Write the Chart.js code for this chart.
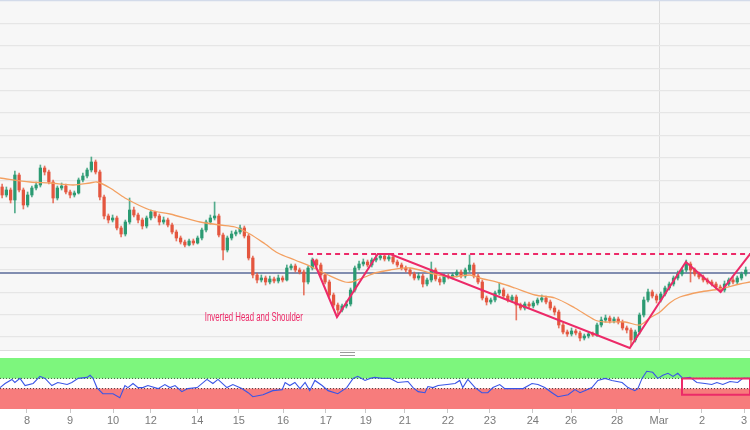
<!DOCTYPE html>
<html>
<head>
<meta charset="utf-8">
<script src="https://cdn.jsdelivr.net/npm/chart.js@4.4.1/dist/chart.umd.min.js"></script>
<style>
  html, body { margin: 0; padding: 0; background: #ffffff; }
  #wrap { position: relative; width: 750px; height: 430px; overflow: hidden; background: #ffffff; }
  #mainBox { position: absolute; left: 0; top: 0; width: 750px; height: 350px; background: #f7f7f7; }
  #sep { position: absolute; left: 0; top: 350px; width: 750px; height: 1px; background: #dedede; }
  #handle { position: absolute; left: 340px; top: 352px; width: 15px; height: 2px; border-top: 1px solid #9a9a9a; border-bottom: 1px solid #9a9a9a; }
  #rsiBox { position: absolute; left: 0; top: 358px; width: 750px; height: 72px; }
</style>
</head>
<body>
<div id="wrap">
  <div id="mainBox"><canvas id="priceChart"></canvas></div>
  <div id="sep"></div>
  <div id="handle"></div>
  <div id="rsiBox"><canvas id="rsiChart"></canvas></div>
</div>
<script>
// ---------- DATA ----------
const opens = [150,142,147,137,162,147,132,142,149,152,
169,165,155,139,149,151,145,142,144,157,
161,167,175,165,140,121,117,119,109,103,
115,127,122,117,111,119,125,121,115,117,
112,105,99,95,92,96,94,99,107,115,
119,121,102,87,99,103,105,109,101,79,
62,57,59,55,58,56,59,57,69,71,
67,65,55,69,77,72,62,55,42,32,
27,31,33,47,69,73,75,72,77,79,
81,78,80,75,72,69,67,63,59,61,
53,57,67,58,55,61,60,62,65,61,
67,72,61,55,39,35,37,44,47,41,
37,40,32,29,33,31,34,37,39,35,
29,25,12,5,3,6,4,-1,1,3,
2,12,17,19,16,18,15,9,7,-3,
5,22,37,45,41,37,43,49,53,59,
63,67,73,67,63,60,57,55,53,50,
47,53,57,55,59,63];
const highs = [153,150,149,166,164,149,145,151,155,172,
171,167,157,151,154,153,147,146,159,164,
169,180,177,167,142,123,122,121,111,117,
139,130,124,119,121,127,126,123,120,119,
114,107,101,97,98,98,101,109,117,122,
135,123,104,101,106,107,112,111,103,81,
64,62,61,61,60,62,61,72,73,73,
69,67,71,79,78,74,64,57,44,34,
33,36,49,71,76,78,77,79,82,83,
83,82,82,77,74,71,69,65,64,63,
59,75,69,60,63,63,64,67,67,69,
82,74,63,57,41,39,46,54,49,43,
42,42,34,35,35,36,39,42,41,37,
31,27,14,7,9,8,6,3,5,5,
14,20,22,21,20,20,17,11,9,7,
24,40,48,47,43,45,51,55,61,66,
69,77,75,69,65,62,59,57,55,52,
56,59,60,61,65,70];
const lows = [139,140,134,124,145,128,130,140,147,150,
162,153,134,137,147,143,139,140,143,155,
159,165,163,137,118,114,115,107,100,101,
113,120,114,108,109,117,119,112,113,110,
103,96,93,90,91,92,93,97,105,113,
117,100,77,85,97,101,103,99,77,59,
54,55,52,53,54,54,55,56,67,65,
63,42,53,67,70,60,53,40,30,23,
25,29,31,45,67,71,70,70,75,77,
76,76,73,70,67,65,61,57,57,50,
51,55,56,52,53,58,58,60,59,59,
65,59,53,37,32,33,35,42,39,35,
35,17,27,27,29,29,32,35,33,27,
22,9,3,0,1,2,-4,-3,-1,0,
0,10,15,14,14,13,7,4,-9,-5,
3,20,35,39,34,35,41,47,51,57,
61,65,55,61,58,55,53,51,48,45,
45,51,53,53,57,61];
const closes = [142,147,137,162,147,132,142,149,152,169,
165,155,139,149,151,145,142,144,157,161,
167,175,165,140,121,117,119,109,103,115,
127,122,117,111,119,125,121,115,117,112,
105,99,95,92,96,94,99,107,115,119,
121,102,87,99,103,105,109,101,79,62,
57,59,55,58,56,59,57,69,71,67,
65,55,69,77,72,62,55,42,32,27,
31,33,47,69,73,75,72,77,79,81,
78,80,75,72,69,67,63,59,61,53,
57,67,58,55,61,60,62,65,61,67,
72,61,55,39,35,37,44,47,41,37,
40,32,29,33,31,34,37,39,35,29,
25,12,5,3,6,4,-1,1,3,2,
12,17,19,16,18,15,9,7,-3,5,
22,37,45,41,37,43,49,53,59,63,
67,73,67,63,60,57,55,53,50,47,
53,57,55,59,63,67];

// moving average line (orange), read at these candle positions
const emaX = [-0.5,6.6,11.3,16.7,20.7,22.3,25.4,28.9,34.8,39.5,46.6,51.3,54.8,58.3,61.9,64.9,68.9,72.9,76.7,80.7,82.3,85.4,87.7,91.3,96,100.7,105.4,110.1,112.4,117.1,120.7,125.4,130.1,134.8,139.5,141.9,146.6,150.1,152.4,154.8,157.1,159.5,164.2,168.9,173.6,176];
const emaY = [159,155,154,152,154,155,149,139,127,123,115,112,110,103,93,84,77,70,62,55,55,60,64,67,69,64,60,62,59,54,49,42,39,29,17,15,15,12,19,25,34,40,45,48,53,55];

// RSI-type oscillator (lower panel)
const rsiX = [-0.5,0.7,2.3,3.0,4.2,5.4,7.3,8.9,10.1,11.7,13.1,15.3,16.4,17.9,20.0,20.7,21.4,22.3,23.7,26.1,27.7,28.9,29.6,30.8,32.0,33.1,34.3,36.7,38.3,39.5,40.7,42.3,43.7,45.9,48.2,49.6,50.8,52.9,54.3,56.4,57.9,59.0,61.4,63.7,65.9,66.6,67.7,68.9,70.1,71.3,72.4,73.6,75.3,76.7,79.0,81.1,82.6,83.7,85.4,86.6,87.7,89.4,91.3,93.1,95.5,96.7,97.9,99.5,100.2,101.4,102.6,104.7,106.6,107.7,108.4,109.6,111.3,112.9,114.3,115.5,117.1,118.3,120.7,122.6,124.7,126.1,127.7,129.4,130.8,133.2,134.8,136.0,137.1,138.8,140.2,141.9,143.5,145.9,147.3,148.9,149.6,150.6,151.7,153.1,154.3,155.5,156.7,157.9,159.0,160.2,161.9,163.5,165.4,167.0,168.2,169.6,171.3,173.1,174.3,176.0];
const rsiY = [42,50,58,52,60,46,50,64,60,46,52,48,52,60,62,66,60,42,30,30,22,46,42,50,42,42,46,40,48,42,46,34,40,42,58,50,58,42,48,40,32,24,28,36,38,52,46,52,40,52,36,56,46,36,30,42,60,64,56,60,62,60,60,52,54,42,34,32,44,42,46,48,50,56,42,58,42,32,32,42,48,40,40,40,50,48,42,32,24,28,38,32,36,42,56,60,56,52,42,36,40,60,74,72,60,66,70,64,70,60,62,52,50,48,52,48,54,52,60,60];
const rsiUpper = 60;
const rsiLower = 40;

// horizontal levels and pattern drawing
const priceLevel = 64;          // dark blue horizontal line
const necklineLevel = 83;       // pink dashed neckline
const necklineFrom = 72;
const patternX = [73.1, 78.8, 88.4, 91.3, 147.7, 160.9, 169.1, 176];
const patternY = [78, 20, 83, 83, -11, 75, 45, 83];
const patternLabel = 'Inverted Head and Shoulder';
const rsiBoxX = [160, 176, 176, 160, 160];
const rsiBoxY = [60, 60, 28, 28, 60];

// axis labels
const tickPos = [5.85,16.0,26.1,35.0,45.9,55.7,66.1,76.2,85.6,94.8,104.9,114.8,124.9,133.9,144.7,154.6,164.7,174.6];
const tickLabels = ['8','9','10','12','14','15','16','17','19','21','22','23','24','26','28','Mar','2','3'];
const monthBreak = 154.6;
const gridLevels = [0,22.4,44.8,67.2,89.6,112,134.4,156.8,179.2,201.6,224,246.4,268.8,291.2,313.6,336];

// ---------- STYLE ----------
const UP = '#2b9a72', DOWN = '#e4563f', PINK = '#ec2a68', NAVY = '#5a6a98', ORANGE = '#f3a061';
const X_MIN = -0.5, X_MAX = 176;

const idx = closes.map((_, i) => i);
const candleColors = idx.map(i => closes[i] >= opens[i] ? UP : DOWN);

const labelPlugin = {
  id: 'patternLabel',
  afterDatasetsDraw(chart) {
    const { ctx, scales: { x, y } } = chart;
    ctx.save();
    ctx.font = '12px "Liberation Sans Narrow", "Liberation Sans", Arial, sans-serif';
    const w = ctx.measureText(patternLabel).width;
    ctx.translate(x.getPixelForValue(47.7), y.getPixelForValue(16));
    ctx.scale(98 / w, 1);
    ctx.fillStyle = PINK;
    ctx.textBaseline = 'alphabetic';
    ctx.fillText(patternLabel, 0, 0);
    ctx.restore();
  }
};

new Chart(document.getElementById('priceChart'), {
  type: 'bar',
  data: {
    datasets: [
      { type: 'line', order: 10, data: [{x: X_MIN, y: priceLevel}, {x: X_MAX, y: priceLevel}],
        borderColor: NAVY, borderWidth: 1.5, pointRadius: 0 },
      { type: 'bar', order: 6, grouped: false, data: idx.map(i => ({x: i, y: [lows[i], highs[i]]})),
        backgroundColor: candleColors.map(c => c + 'cc'), barThickness: 1 },
      { type: 'bar', order: 5, grouped: false, data: idx.map(i => ({x: i, y: [opens[i], closes[i]]})),
        backgroundColor: candleColors, barThickness: 2.6, minBarLength: 1 },
      { type: 'line', order: 4, data: emaX.map((v, i) => ({x: v, y: emaY[i]})),
        borderColor: ORANGE, borderWidth: 1.3, pointRadius: 0, tension: 0.3 },
      { type: 'line', order: 2, data: [{x: necklineFrom, y: necklineLevel}, {x: X_MAX, y: necklineLevel}],
        borderColor: PINK, borderWidth: 2, borderDash: [5, 4], pointRadius: 0 },
      { type: 'line', order: 1, data: patternX.map((v, i) => ({x: v, y: patternY[i]})),
        borderColor: PINK, borderWidth: 2, pointRadius: 0 }
    ]
  },
  options: {
    responsive: true, maintainAspectRatio: false, animation: false,
    layout: { padding: 0 },
    plugins: { legend: { display: false }, tooltip: { enabled: false } },
    scales: {
      x: { type: 'linear', min: X_MIN, max: X_MAX, offset: false,
           grid: { offset: false, drawTicks: false, color: '#dcdcdc' },
           border: { display: false }, ticks: { display: false },
           afterBuildTicks: s => { s.ticks = [{ value: monthBreak }]; } },
      y: { min: -13, max: 337,
           grid: { drawTicks: false, color: c => c.tick && c.tick.value === 336 ? '#d3dbea' : '#e6e6e6', lineWidth: 1.2 },
           border: { display: false }, ticks: { display: false },
           afterBuildTicks: s => { s.ticks = gridLevels.map(v => ({ value: v })); } }
    }
  },
  plugins: [labelPlugin]
});

new Chart(document.getElementById('rsiChart'), {
  type: 'line',
  data: {
    datasets: [
      { data: [{x: X_MIN, y: 100}, {x: X_MAX, y: 100}], fill: { value: rsiUpper },
        backgroundColor: '#7df67d', borderWidth: 0, pointRadius: 0, order: 10 },
      { data: [{x: X_MIN, y: rsiLower}, {x: X_MAX, y: rsiLower}], fill: 'origin',
        backgroundColor: '#f77c7c', borderWidth: 0, pointRadius: 0, order: 9 },
      { data: [{x: X_MIN, y: rsiUpper}, {x: X_MAX, y: rsiUpper}], borderColor: '#3f5a3f',
        borderWidth: 1, borderDash: [1, 2], pointRadius: 0, order: 8 },
      { data: [{x: X_MIN, y: rsiLower}, {x: X_MAX, y: rsiLower}], borderColor: '#4a3a3a',
        borderWidth: 1, borderDash: [1, 2], pointRadius: 0, order: 7 },
      { data: rsiX.map((v, i) => ({x: v, y: rsiY[i]})), borderColor: '#3a55e6',
        borderWidth: 1.1, pointRadius: 0, order: 2 },
      { data: rsiBoxX.map((v, i) => ({x: v, y: rsiBoxY[i]})), borderColor: PINK,
        borderWidth: 2, pointRadius: 0, order: 1 }
    ]
  },
  options: {
    responsive: true, maintainAspectRatio: false, animation: false,
    layout: { padding: 0 },
    plugins: { legend: { display: false }, tooltip: { enabled: false } },
    scales: {
      x: { type: 'linear', min: X_MIN, max: X_MAX, offset: false,
           grid: { drawOnChartArea: false, drawTicks: true, tickLength: 4, tickColor: '#c8c8c8' },
           border: { display: false },
           ticks: { autoSkip: false, maxRotation: 0, padding: 1, color: '#7a7a7a',
                    font: { family: '"Liberation Sans", Arial, sans-serif', size: 11 },
                    callback: (v, i) => tickLabels[i] },
           afterBuildTicks: s => { s.ticks = tickPos.map(v => ({ value: v })); },
           afterFit: s => { s.height = 21; } },
      y: { display: false, min: 0, max: 100 }
    }
  }
});
</script>
</body>
</html>
